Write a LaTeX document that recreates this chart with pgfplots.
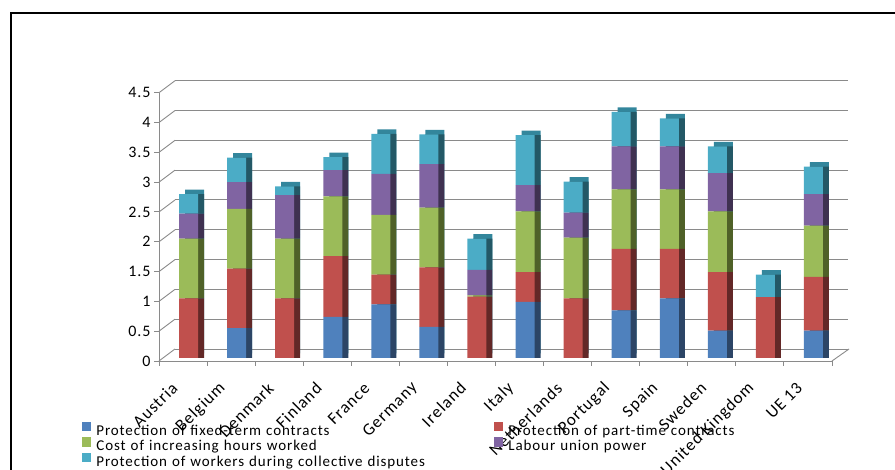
\documentclass[border=0pt]{standalone}
\usepackage{fontspec}
\setmainfont{Carlito}[LetterSpace=6]
\usepackage{pgfplots}
\usepackage{pgfplotstable}
\pgfplotsset{compat=1.18}
\definecolor{cBlue}{HTML}{4F81BD}
\definecolor{cRed}{HTML}{C0504D}
\definecolor{cGreen}{HTML}{9BBB59}
\definecolor{cPurple}{HTML}{8064A2}
\definecolor{cCyan}{HTML}{4BACC6}
\definecolor{sBlue}{HTML}{2C4566}
\definecolor{sRed}{HTML}{632827}
\definecolor{sGreen}{HTML}{4F6128}
\definecolor{sPurple}{HTML}{3F3151}
\definecolor{sCyan}{HTML}{235866}
\definecolor{tCyan}{HTML}{33869C}
\definecolor{gridc}{HTML}{8A8A8A}

\pgfplotstableread{
idx fixed part hours union disputes
0  0    1    1    0.42 0.33
1  0.5  1    1    0.45 0.41
2  0    1    1    0.73 0.15
3  0.69 1.02 1.0  0.44 0.22
4  0.9  0.5  1.0  0.69 0.67
5  0.52 1.0  1.0  0.73 0.5
6  0    1.03 0.02 0.43 0.52
7  0.94 0.5  1.02 0.44 0.84
8  0    1    1.02 0.42 0.52
9  0.8  1.03 1.0  0.72 0.58
10 1.0  0.83 1.0  0.72 0.47
11 0.46 0.98 1.02 0.64 0.45
12 0    1.02 0    0    0.38
13 0.46 0.9  0.86 0.53 0.46
}\data

\pgfplotsset{
  frame/.style={scale only axis, width=673pt, height=268.3pt, anchor=south west,
    xmin=-0.5, xmax=13.5, ymin=0, ymax=4.5, clip=false},
  barlayer/.style={frame, axis line style={draw=none}, tick style={draw=none},
    xtick=\empty, ytick=\empty, ybar stacked, bar width=19pt},
}

\begin{document}
\begin{tikzpicture}
\useasboundingbox (0,0) rectangle (895pt,470pt);
% back wall
\begin{axis}[frame, at={(175pt,121pt)},
  axis line style={draw=none}, tick style={draw=none},
  xtick=\empty, ytick={0,0.5,...,4.5}, yticklabels={},
  ymajorgrids, grid style={gridc, line width=0.9pt}]
\end{axis}
% left wall and floor edges
\foreach \k in {0,...,9}{
  \draw[gridc, line width=0.9pt] (159pt,{109pt+\k*29.81pt}) -- (175pt,{121pt+\k*29.81pt});
}
\draw[gridc, line width=0.9pt] (832pt,109pt) -- (849pt,121pt);
% front axis
\begin{axis}[frame, at={(159pt,109pt)},
  axis x line*=bottom, axis y line*=left,
  axis line style={gridc, line width=0.9pt, -},
  tick style={gridc, line width=0.9pt},
  tick align=outside,
  xtick={0,...,13},
  xticklabels={Austria, Belgium, Denmark, Finland, France, Germany, Ireland, Italy, Netherlands, Portugal, Spain, Sweden, United Kingdom, UE 13},
  major x tick style={draw=none},
  minor xtick={-0.5,0.5,...,13.5},
  minor tick length=5pt, major tick length=5pt,
  ytick={0,0.5,...,4.5},
  /pgf/number format/assume math mode=true,
  yticklabel style={font=\fontsize{16}{18}\selectfont, text=black},
  xticklabel style={font=\fontsize{17}{19}\selectfont, text=black, anchor=east, xshift=-6pt, yshift=-17pt, rotate=45},
]
\end{axis}
% top faces
\begin{axis}[barlayer, at={(170.5pt,116.5pt)}]
\addplot[fill=tCyan, draw=none] table[x=idx,y=fixed]{\data};
\addplot[fill=tCyan, draw=none] table[x=idx,y=part]{\data};
\addplot[fill=tCyan, draw=none] table[x=idx,y=hours]{\data};
\addplot[fill=tCyan, draw=none] table[x=idx,y=union]{\data};
\addplot[fill=tCyan, draw=none] table[x=idx,y=disputes]{\data};
\end{axis}
% side faces
\begin{axis}[barlayer, at={(170.5pt,112pt)}]
\addplot[fill=sBlue, draw=none] table[x=idx,y=fixed]{\data};
\addplot[fill=sRed, draw=none] table[x=idx,y=part]{\data};
\addplot[fill=sGreen, draw=none] table[x=idx,y=hours]{\data};
\addplot[fill=sPurple, draw=none] table[x=idx,y=union]{\data};
\addplot[fill=sCyan, draw=none] table[x=idx,y=disputes]{\data};
\end{axis}
% front faces
\begin{axis}[barlayer, at={(164.5pt,112pt)},
  legend columns=2,
  legend image code/.code={\fill[#1] (0pt,1pt) rectangle (9.4pt,10.4pt);},
  legend style={at={(-0.1226,-0.2378)}, anchor=north west, draw=none, fill=none,
    inner sep=0pt, outer sep=0pt, row sep=-2.6pt,
    font=\fontsize{15}{15.3}\selectfont,
    nodes={inner sep=0pt, text height=11pt, text depth=4.3pt, text width=397.6pt, align=left},
    /tikz/every odd column/.append style={column sep=5pt},
    /tikz/every even column/.append style={column sep=0pt}},
]
\addplot[fill=cBlue, draw=none] table[x=idx,y=fixed]{\data};
\addplot[fill=cRed, draw=none] table[x=idx,y=part]{\data};
\addplot[fill=cGreen, draw=none] table[x=idx,y=hours]{\data};
\addplot[fill=cPurple, draw=none] table[x=idx,y=union]{\data};
\addplot[fill=cCyan, draw=none] table[x=idx,y=disputes]{\data};
\legend{Protection of fixed-term contracts, Protection of part-time contracts, Cost of increasing hours worked, Labour union power, Protection of workers during collective disputes}
\end{axis}
% outer frame
\draw[black, line width=1.3pt] (11pt,-5pt) -- (11pt,457pt) -- (905pt,457pt);
\end{tikzpicture}
\end{document}
